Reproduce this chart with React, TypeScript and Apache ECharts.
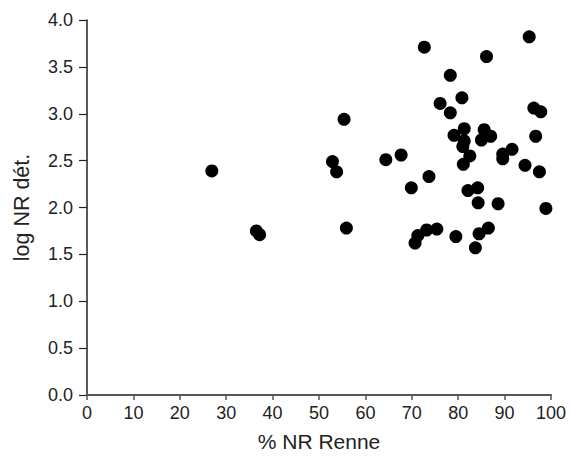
import React, { useEffect, useRef } from "react";
import * as echarts from "echarts";

const pctRenne: number[] = [
  26.9, 36.5, 37.2, 52.9, 53.8, 55.4, 55.9,
  95.3, 72.7, 86.1, 78.3, 76.1, 80.8, 78.3, 96.3, 97.8, 81.3, 85.6, 79.1, 87.0,
  85.0, 81.3, 96.7, 81.0, 91.6, 82.5, 89.6, 89.6, 67.7, 64.4, 81.1, 94.4, 97.5,
  73.7, 69.9, 82.1, 84.2, 84.3, 88.6, 98.9, 70.7, 71.3, 73.2, 75.4, 79.5, 83.7,
  84.5, 86.5,
];
const logNRdet: number[] = [
  2.39, 1.75, 1.71, 2.49, 2.38, 2.94, 1.78,
  3.82, 3.71, 3.61, 3.41, 3.11, 3.17, 3.01, 3.06, 3.02, 2.84, 2.83, 2.77, 2.76,
  2.72, 2.71, 2.76, 2.65, 2.62, 2.55, 2.57, 2.52, 2.56, 2.51, 2.46, 2.45, 2.38,
  2.33, 2.21, 2.18, 2.21, 2.05, 2.04, 1.99, 1.62, 1.70, 1.76, 1.77, 1.69, 1.57,
  1.72, 1.78,
];
const xTitle = "% NR Renne";
const yTitle = "log NR dét.";

export default function App() {
  const ref = useRef<HTMLDivElement>(null);
  useEffect(() => {
    if (!ref.current) return;
    const chart = echarts.init(ref.current, null, { renderer: "svg" });
    const font = "'Liberation Sans', Arial, sans-serif";
    const data = pctRenne.map((x, i) => [x, logNRdet[i]]);
    chart.setOption({
      animation: false,
      backgroundColor: "#ffffff",
      textStyle: { fontFamily: font },
      grid: { left: 87, right: 20, top: 20, bottom: 63, containLabel: false },
      xAxis: {
        type: "value",
        min: 0,
        max: 100,
        interval: 10,
        name: xTitle,
        nameLocation: "middle",
        nameGap: 36,
        nameTextStyle: { fontSize: 21, color: "#222", fontFamily: font },
        axisLine: { onZero: false, lineStyle: { color: "#555", width: 2 } },
        axisTick: { show: true, length: 5, lineStyle: { color: "#555", width: 1.5 } },
        axisLabel: { fontSize: 18, color: "#222", margin: 9, fontFamily: font },
        splitLine: { show: false },
      },
      yAxis: {
        type: "value",
        min: 0,
        max: 4,
        interval: 0.5,
        name: yTitle,
        nameLocation: "middle",
        nameGap: 54,
        nameTextStyle: { fontSize: 21.5, color: "#222", fontFamily: font },
        axisLine: { show: true, onZero: false, lineStyle: { color: "#222", width: 1.5 } },
        axisTick: { show: true, length: 8, lineStyle: { color: "#222", width: 1.2 } },
        axisLabel: {
          fontSize: 18,
          color: "#222",
          margin: 14,
          fontFamily: font,
          formatter: (v: number) => v.toFixed(1),
        },
        splitLine: { show: false },
      },
      series: [
        {
          type: "scatter",
          data,
          symbol: "circle",
          symbolSize: 13,
          itemStyle: { color: "#000000", opacity: 1 },
        },
      ],
    });
    return () => chart.dispose();
  }, []);
  return (
    <div
      ref={ref}
      style={{ position: "fixed", left: 0, top: 0, width: 571, height: 458 }}
    />
  );
}
